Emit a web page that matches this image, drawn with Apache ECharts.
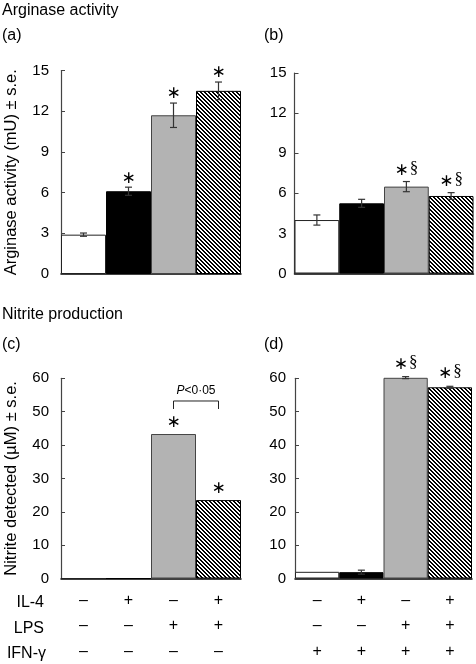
<!DOCTYPE html>
<html><head><meta charset="utf-8">
<script src="https://cdn.jsdelivr.net/npm/echarts@6/dist/echarts.min.js"></script>
<style>html,body{margin:0;padding:0;background:#fff}#c{width:476px;height:664px}</style>
</head><body><div id="c"></div>
<script>
// ---- data ----
const categories = ['G1', 'G2', 'G3', 'G4'];
const il4Signs = ['–', '+', '–', '+'];
const lpsSigns = ['–', '–', '+', '+'];
const ifnSignsLeft = ['–', '–', '–', '–'];
const ifnSignsRight = ['+', '+', '+', '+'];
const rowLabels = ['IL-4', 'LPS', 'IFN-γ'];

const arginaseA = [2.9, 6.1, 11.7, 13.5];
const arginaseAErr = [0.12, 0.3, 0.9, 0.65];
const marksA = ['', '*', '*', '*'];

const arginaseB = [4.0, 5.25, 6.5, 5.8];
const arginaseBErr = [0.38, 0.3, 0.38, 0.25];
const marksB = ['', '', '*§', '*§'];

const nitriteC = [0, 0, 43.3, 23.5];
const nitriteCErr = [0, 0, 0, 0];
const marksC = ['', '', '*', '*'];

const nitriteD = [2.0, 1.9, 60.2, 57.3];
const nitriteDErr = [0, 0.6, 0.3, 0.3];
const marksD = ['', '', '*§', '*§'];

const bracketFrom = 2, bracketTo = 3, bracketLevel = 53.2, bracketLeg = 50.8;
const bracketText = 'P<0·05';

const argTicks = {min: 0, max: 15, interval: 3};
const nitTicks = {min: 0, max: 60, interval: 10};

// ---- styling ----
const FONT = "'Liberation Sans', Arial, Helvetica, sans-serif";

function hatchPattern() {
  const s = 4;
  const c = document.createElement('canvas');
  c.width = s; c.height = s;
  const ctx = c.getContext('2d');
  const img = ctx.createImageData(s, s);
  for (let y = 0; y < s; y++) for (let x = 0; x < s; x++) {
    const k = (((x - y) % s) + s) % s;
    const v = k < 2 ? 0 : 255;
    const p = (y * s + x) * 4;
    img.data[p] = v; img.data[p + 1] = v; img.data[p + 2] = v; img.data[p + 3] = 255;
  }
  ctx.putImageData(img, 0, 0);
  return {image: c, repeat: 'repeat'};
}
const hatch = hatchPattern();
const barStyles = [
  {color: '#ffffff', borderColor: '#222', borderWidth: 1},
  {color: '#000000', borderColor: '#000', borderWidth: 1},
  {color: '#b3b3b3', borderColor: '#444', borderWidth: 1},
  {color: hatch, borderColor: '#000', borderWidth: 1}
];

const grids = [
  {left: 61, top: 70.5, width: 180, height: 203.5},
  {left: 294.5, top: 73, width: 179, height: 200.5},
  {left: 61, top: 378.3, width: 180, height: 202.4},
  {left: 295, top: 378.3, width: 177, height: 202.4}
];

function xAxis(gi, bottomRows) {
  return {
    gridIndex: gi, type: 'category', data: categories,
    axisLine: {lineStyle: {color: '#000', width: 1.5}},
    axisTick: {show: false},
    axisLabel: bottomRows ? {
      show: true, interval: 0, margin: 9, color: '#000', fontSize: 16, lineHeight: 25.5,
      fontFamily: FONT,
      formatter: (v, i) => bottomRows.map(r => r[i]).join('\n')
    } : {show: false},
    splitLine: {show: false}
  };
}
function yAxis(gi, ticks, name, margin) {
  return {
    gridIndex: gi, type: 'value', min: ticks.min, max: ticks.max, interval: ticks.interval,
    axisLine: {show: true, lineStyle: {color: '#444', width: 1.2}},
    axisTick: {show: true, inside: true, length: 4, lineStyle: {color: '#444'}},
    axisLabel: {color: '#000', fontSize: 15, margin: margin, fontFamily: FONT},
    splitLine: {show: false},
    name: name || '', nameLocation: 'middle', nameGap: 41,
    nameTextStyle: {fontSize: 16.5, color: '#000', fontFamily: FONT}
  };
}
function barSeries(gi, vals) {
  return {
    type: 'bar', xAxisIndex: gi, yAxisIndex: gi, barCategoryGap: '0%', silent: true,
    data: vals.map((v, i) => ({value: v, itemStyle: barStyles[i]})), z: 2
  };
}
const markRich = {
  a: {fontFamily: "'DejaVu Sans', sans-serif", fontSize: 17, fill: '#000', color: '#000'},
  s: {fontFamily: "'Liberation Serif', serif", fontSize: 17, fill: '#000', color: '#000', padding: [0, 0, 4, 1]}
};
function errSeries(gi, vals, errs, marks, off) {
  return {
    type: 'custom', xAxisIndex: gi, yAxisIndex: gi, z: 5, silent: true,
    data: vals.map((v, i) => [i, v]),
    renderItem: function (params, api) {
      const i = params.dataIndex, v = vals[i], e = errs[i];
      const children = [];
      const cx = api.coord([i, v])[0];
      const ty = api.coord([i, v + e])[1];
      const by = api.coord([i, v - e])[1];
      const st = {stroke: '#333', lineWidth: 1.2};
      if (e > 0) {
        children.push({type: 'line', shape: {x1: cx, y1: ty, x2: cx, y2: by}, style: st});
        children.push({type: 'line', shape: {x1: cx - 3.5, y1: ty, x2: cx + 3.5, y2: ty}, style: st});
        children.push({type: 'line', shape: {x1: cx - 3.5, y1: by, x2: cx + 3.5, y2: by}, style: st});
      }
      if (marks[i]) {
        const txt = marks[i].replace('*', '{a|∗}').replace('§', '{s|§}');
        children.push({type: 'text', style: {
          text: txt, rich: markRich, x: cx, y: ty - off,
          align: 'center', verticalAlign: 'middle', textAlign: 'center', textVerticalAlign: 'middle'
        }});
      }
      return {type: 'group', children: children};
    }
  };
}
function bracketSeries(gi) {
  return {
    type: 'custom', xAxisIndex: gi, yAxisIndex: gi, z: 5, silent: true,
    data: [[bracketFrom, bracketLevel]],
    renderItem: function (params, api) {
      const l = api.coord([bracketFrom, bracketLevel]);
      const r = api.coord([bracketTo, bracketLevel]);
      const legY = api.coord([bracketFrom, bracketLeg])[1];
      const st = {stroke: '#222', lineWidth: 1};
      const pt = bracketText.slice(0, 1), rest = bracketText.slice(1);
      return {type: 'group', children: [
        {type: 'polyline', shape: {points: [[l[0], legY], [l[0], l[1]], [r[0], r[1]], [r[0], legY]]}, style: Object.assign({fill: null}, st)},
        {type: 'text', style: {
          text: '{i|' + pt + '}{n|' + rest + '}',
          rich: {i: {fontStyle: 'italic', fontSize: 12, fontFamily: FONT, fill: '#000', color: '#000'},
                 n: {fontSize: 12, fontFamily: FONT, fill: '#000', color: '#000'}},
          x: (l[0] + r[0]) / 2, y: l[1] - 10,
          align: 'center', verticalAlign: 'middle', textAlign: 'center', textVerticalAlign: 'middle'
        }}
      ]};
    }
  };
}
function gtext(t, x, y, align, size) {
  return {type: 'text', x: x, y: y, silent: true, style: {
    text: t, fill: '#000', font: (size || 16) + 'px ' + FONT,
    align: align || 'left', textAlign: align || 'left', verticalAlign: 'middle', textVerticalAlign: 'middle'
  }};
}

const chart = echarts.init(document.getElementById('c'), null, {renderer: 'canvas'});
chart.setOption({
  backgroundColor: '#fff',
  animation: false,
  textStyle: {fontFamily: FONT},
  grid: grids,
  xAxis: [
    xAxis(0), xAxis(1),
    xAxis(2, [il4Signs, lpsSigns, ifnSignsLeft]),
    xAxis(3, [il4Signs, lpsSigns, ifnSignsRight])
  ],
  yAxis: [
    yAxis(0, argTicks, 'Arginase activity (mU) ± s.e.', 12),
    yAxis(1, argTicks, '', 8),
    yAxis(2, nitTicks, 'Nitrite detected (µM) ± s.e.', 12),
    yAxis(3, nitTicks, '', 9)
  ],
  series: [
    barSeries(0, arginaseA), errSeries(0, arginaseA, arginaseAErr, marksA, 9),
    barSeries(1, arginaseB), errSeries(1, arginaseB, arginaseBErr, marksB, 11),
    barSeries(2, nitriteC), errSeries(2, nitriteC, nitriteCErr, marksC, 11.5), bracketSeries(2),
    barSeries(3, nitriteD), errSeries(3, nitriteD, nitriteDErr, marksD, 12.5)
  ],
  graphic: [
    gtext('Arginase activity', 2, 11),
    gtext('(a)', 2, 36),
    gtext('(b)', 264, 36),
    gtext('Nitrite production', 2, 315),
    gtext('(c)', 2, 345),
    gtext('(d)', 264, 345),
    gtext(rowLabels[0], 44, 602.3, 'right'),
    gtext(rowLabels[1], 44, 628.3, 'right'),
    gtext(rowLabels[2], 46, 653.5, 'right')
  ]
});
</script></body></html>
